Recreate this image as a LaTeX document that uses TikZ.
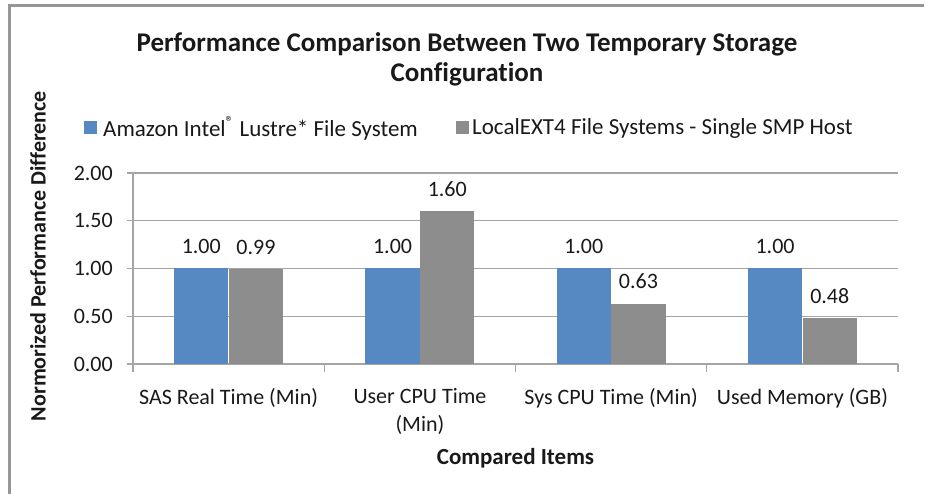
\documentclass[tikz,border=0pt]{standalone}
\usepackage{fontspec}
\usepackage{graphicx}
\setmainfont{Carlito}[Ligatures={NoCommon}]
\definecolor{barblue}{RGB}{86,137,194}
\definecolor{bargray}{RGB}{141,141,141}
\definecolor{gridcol}{RGB}{165,165,165}
\definecolor{framecol}{RGB}{150,150,150}
\definecolor{txtcol}{RGB}{25,25,25}
\begin{document}
\begin{tikzpicture}[x=1pt,y=-1pt,
  txt/.style={font=\fontsize{22}{28}\selectfont, text=txtcol, inner sep=0pt},
  legtxt/.style={font=\fontsize{23}{28}\selectfont, text=txtcol, inner sep=0pt, anchor=west},
  boldtxt/.style={font=\bfseries\fontsize{23}{28}\selectfont, text=txtcol, inner sep=0pt},
  titletxt/.style={font=\bfseries\fontsize{27}{30}\selectfont, text=txtcol, inner sep=0pt, align=center},
  bluebar/.style={fill=barblue, draw=none, minimum width=54.3pt, inner sep=0pt},
  graybar/.style={fill=bargray, draw=none, minimum width=54.3pt, inner sep=0pt},
  gridline/.style={draw=gridcol, line width=1.3pt},
  ticklab/.style={txt, anchor=east},
  vallab/.style={txt},
  catlab/.style={txt, anchor=north, align=center},
  legsq/.style={minimum size=13pt, inner sep=0pt, draw=none}
]
\useasboundingbox (0,0) rectangle (926,494);
% frame
\draw[framecol, line width=2.2pt] (9.5,494) -- (9.5,5.5) -- (924,5.5);
% title
\node[titletxt] (title) at (467,59) {Performance Comparison Between Two Temporary Storage\\Configuration};
% legend
\node[legsq, fill=barblue] (lsq1) at (90,127.5) {};
\node[legtxt] (ltx1) at (103,128) {Amazon Intel\textsuperscript{®} Lustre* File System};
\node[legsq, fill=bargray] (lsq2) at (462.5,127.5) {};
\node[legtxt] (ltx2) at (472,128) {LocalEXT4 File Systems - Single SMP Host};
% grid
\foreach \v/\lab [count=\i] in {0/0.00,0.5/0.50,1/1.00,1.5/1.50,2/2.00}{
  \coordinate (gl\i) at (127,364-\v*95.5);
  \coordinate (gr\i) at (898,364-\v*95.5);
  \draw[gridline] (gl\i) -- (gr\i);
  \node[ticklab] (tl\i) at (113,364-\v*95.5) {\lab};
}
\coordinate (axtop) at (133,173);
\coordinate (axbot) at (133,364);
\draw[gridline] (axtop) -- (axbot);
\foreach \x [count=\i] in {133,324.25,515.5,706.75,898}{
  \coordinate (ct\i) at (\x,364);
  \coordinate (cb\i) at (\x,372);
  \draw[gridline] (ct\i) -- (cb\i);
}
% bars
\node[bluebar, minimum height=95.5pt, anchor=south east] (b1) at (228.6,364) {};
\node[graybar, minimum height=94.5pt, anchor=south west] (g1) at (228.6,364) {};
\node[bluebar, minimum height=95.5pt, anchor=south east] (b2) at (419.9,364) {};
\node[graybar, minimum height=152.8pt, anchor=south west] (g2) at (419.9,364) {};
\node[bluebar, minimum height=95.5pt, anchor=south east] (b3) at (611.1,364) {};
\node[graybar, minimum height=60.2pt, anchor=south west] (g3) at (611.1,364) {};
\node[bluebar, minimum height=95.5pt, anchor=south east] (b4) at (802.4,364) {};
\node[graybar, minimum height=45.8pt, anchor=south west] (g4) at (802.4,364) {};
% value labels
\node[vallab] (vb1) at ([yshift=22pt]b1.north) {1.00};
\node[vallab] (vg1) at ([yshift=22pt]g1.north) {0.99};
\node[vallab] (vb2) at ([yshift=22pt]b2.north) {1.00};
\node[vallab] (vg2) at ([yshift=22pt]g2.north) {1.60};
\node[vallab] (vb3) at ([yshift=22pt]b3.north) {1.00};
\node[vallab] (vg3) at ([yshift=22pt]g3.north) {0.63};
\node[vallab] (vb4) at ([yshift=22pt]b4.north) {1.00};
\node[vallab] (vg4) at ([yshift=22pt]g4.north) {0.48};
% category labels
\node[catlab] (c1) at (228.6,388) {SAS Real Time (Min)};
\node[catlab] (c2) at (419.9,388) {User CPU Time\\(Min)};
\node[catlab] (c3) at (611.1,388) {Sys CPU Time (Min)};
\node[catlab] (c4) at (802.4,388) {Used Memory (GB)};
% axis titles
\node[boldtxt] (xt) at (515.5,458) {Compared Items};
\node[boldtxt, rotate=90, font=\bfseries\fontsize{22}{26}\selectfont] (yt) at (38,256) {Normorized Performance Difference};
\end{tikzpicture}
\end{document}
